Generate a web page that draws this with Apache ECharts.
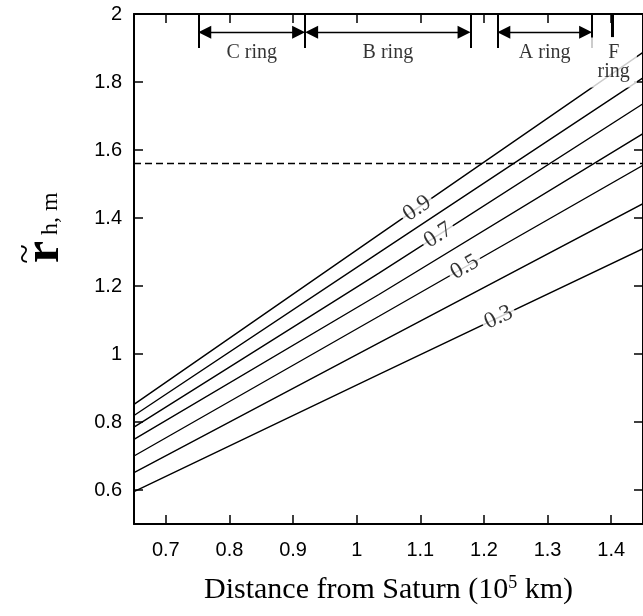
<!DOCTYPE html>
<html><head><meta charset="utf-8">
<script src="https://cdn.jsdelivr.net/npm/echarts@6/dist/echarts.min.js"></script>
<style>html,body{margin:0;padding:0;background:#fff}#c{width:643px;height:616px}</style>
</head><body><div id="c"></div>
<script>
// ---- data ----
const xSamples = [0.65, 1.035, 1.45];           // distance from Saturn (10^5 km)
const curveNames = ['0.9', '0.8', '0.7', '0.6', '0.5', '0.4', '0.3'];
const r09 = [0.852, 1.351, 1.887];
const r08 = [0.819, 1.298, 1.812];
const r07 = [0.785, 1.238, 1.736];
const r06 = [0.749, 1.175, 1.648];
const r05 = [0.700, 1.111, 1.555];
const r04 = [0.651, 1.033, 1.442];
const r03 = [0.595, 0.940, 1.310];
const labelledCurves = ['0.9', '0.7', '0.5', '0.3'];
const labelAtX = [1.095, 1.128, 1.170, 1.223];
const criticalR = 1.565;
const xTicks = [0.7, 0.8, 0.9, 1.0, 1.1, 1.2, 1.3, 1.4];
const yTicks = [0.6, 0.8, 1.0, 1.2, 1.4, 1.6, 1.8, 2.0];
const ringNames = ['C ring', 'B ring', 'A ring'];
const ringInner = [0.751, 0.919, 1.221];
const ringOuter = [0.919, 1.179, 1.370];
const fRing = 1.401;
const fRingName = 'F\nring';

// ---- layout / style config ----
const X_MIN = 0.65, X_MAX = 1.45, Y_MIN = 0.5, Y_MAX = 2.0;
const RING_EDGE_BOTTOM = 1.90, ARROW_Y = 1.946, RING_LABEL_Y = 1.8855;
const F_MARK_BOTTOM = 1.932, F_LABEL_Y = 1.857;
const ARROW_SIZE = 13;
const curves = [r09, r08, r07, r06, r05, r04, r03];
const SERIF = '"Liberation Serif", "Times New Roman", serif';
const SANS = '"Liberation Sans", Arial, sans-serif';

function interp(xs, ys, x) {
  for (let i = 0; i < xs.length - 1; i++) {
    if (x >= xs[i] && x <= xs[i + 1]) {
      const t = (x - xs[i]) / (xs[i + 1] - xs[i]);
      return ys[i] + t * (ys[i + 1] - ys[i]);
    }
  }
  return ys[ys.length - 1];
}
const fmt = v => String(Math.round(v * 10) / 10);

const chart = echarts.init(document.getElementById('c'), null, { renderer: 'canvas' });

function build(rot, arrowShift) {
  const axisLineStyle = { color: '#000', width: 2 };
  const markData = [];
  markData.push({ yAxis: criticalR, symbol: 'none', lineStyle: { type: [7, 4], width: 1.3, color: '#000' } });
  const edges = [...new Set([...ringInner, ...ringOuter])];
  edges.forEach(x => markData.push([
    { coord: [x, Y_MAX], symbol: 'none', lineStyle: { width: 2, color: '#000', type: 'solid' } },
    { coord: [x, RING_EDGE_BOTTOM], symbol: 'none' }
  ]));
  ringInner.forEach((x0, i) => markData.push([
    { coord: [x0 + arrowShift, ARROW_Y], symbol: 'triangle', symbolSize: ARROW_SIZE, lineStyle: { width: 1.4, color: '#000', type: 'solid' } },
    { coord: [ringOuter[i] - arrowShift, ARROW_Y], symbol: 'triangle', symbolSize: ARROW_SIZE }
  ]));
  markData.push([
    { coord: [fRing, Y_MAX], symbol: 'none', lineStyle: { width: 3, color: '#000', type: 'solid' } },
    { coord: [fRing, F_MARK_BOTTOM], symbol: 'none' }
  ]);

  const series = curves.map((ys, i) => ({
    name: curveNames[i], type: 'line', z: 2,
    data: xSamples.map((x, j) => [x, ys[j]]),
    showSymbol: false, symbol: 'none', silent: true,
    lineStyle: { color: '#000', width: 1.4 },
    markLine: i === 0 ? { silent: true, symbol: ['none', 'none'], label: { show: false }, animation: false, data: markData } : undefined
  }));

  series.push({
    name: 'curveLabels', type: 'scatter', z: 5, silent: true,
    symbolSize: 1, itemStyle: { color: 'rgba(0,0,0,0)' },
    data: labelledCurves.map((n, i) => {
      const ys = curves[curveNames.indexOf(n)];
      return {
        name: n, value: [labelAtX[i], interp(xSamples, ys, labelAtX[i])],
        label: { rotate: rot ? rot[i] : 0 }
      };
    }),
    label: {
      show: true, position: 'inside', formatter: p => p.name,
      fontFamily: SERIF, fontSize: 23, color: '#000',
      backgroundColor: '#fff', padding: [0, 3, 0, 3]
    }
  });

  series.push({
    name: 'ringLabels', type: 'scatter', z: 5, silent: true,
    symbolSize: 1, itemStyle: { color: 'rgba(0,0,0,0)' },
    data: ringNames.map((n, i) => ({ name: n, value: [(ringInner[i] + ringOuter[i]) / 2, RING_LABEL_Y] }))
      .concat([{ name: fRingName, value: [fRing + 0.003, F_LABEL_Y],
        label: { backgroundColor: '#fff', padding: [4, 7, 8, 7], lineHeight: 19 } }]),
    label: {
      show: true, position: 'inside', formatter: p => p.name,
      fontFamily: SERIF, fontSize: 20, color: '#000', lineHeight: 20
    }
  });

  return {
    animation: false,
    backgroundColor: '#fff',
    grid: { left: 134, right: -2, top: 14, bottom: 92, containLabel: false },
    xAxis: [{
      type: 'value', min: X_MIN, max: X_MAX, position: 'bottom',
      axisLine: { show: true, lineStyle: axisLineStyle },
      axisTick: { show: true, inside: true, length: 9, customValues: xTicks, lineStyle: { color: '#000', width: 1.5 } },
      axisLabel: { customValues: xTicks, formatter: fmt, fontFamily: SANS, fontSize: 20, color: '#000', margin: 16 },
      splitLine: { show: false },
      name: '{t|Distance from Saturn (10}{s|5}{t| km)}',
      nameLocation: 'middle', nameGap: 50,
      nameTextStyle: { rich: {
        t: { fontFamily: SERIF, fontSize: 30, color: '#000', lineHeight: 32 },
        s: { fontFamily: SERIF, fontSize: 18, color: '#000', verticalAlign: 'top', lineHeight: 32 }
      } }
    }, {
      type: 'value', min: X_MIN, max: X_MAX, position: 'top',
      axisLine: { show: true, lineStyle: axisLineStyle },
      axisTick: { show: true, inside: true, length: 9, customValues: xTicks, lineStyle: { color: '#000', width: 1.5 } },
      axisLabel: { show: false }, splitLine: { show: false }
    }],
    yAxis: [{
      type: 'value', min: Y_MIN, max: Y_MAX, position: 'left',
      axisLine: { show: true, lineStyle: axisLineStyle },
      axisTick: { show: true, inside: true, length: 9, customValues: yTicks, lineStyle: { color: '#000', width: 1.5 } },
      axisLabel: { customValues: yTicks, formatter: fmt, fontFamily: SANS, fontSize: 20, color: '#000', margin: 12 },
      splitLine: { show: false }
    }, {
      type: 'value', min: Y_MIN, max: Y_MAX, position: 'right',
      axisLine: { show: true, lineStyle: axisLineStyle },
      axisTick: { show: true, inside: true, length: 9, customValues: yTicks, lineStyle: { color: '#000', width: 1.5 } },
      axisLabel: { show: false }, splitLine: { show: false }
    }],
    graphic: [{
      type: 'group', x: 45, y: 252, rotation: Math.PI / 2, silent: true,
      children: [
        { type: 'text', x: 0, y: 0, style: { text: 'r', fontFamily: SERIF, fontWeight: 'bold', fontSize: 50, fill: '#000', align: 'center', verticalAlign: 'middle' } },
        { type: 'text', x: -2, y: -18, style: { text: '~', fontFamily: SERIF, fontSize: 36, fill: '#000', align: 'center', verticalAlign: 'middle' } },
        { type: 'text', x: 17, y: 6, style: { text: 'h, m', fontFamily: SERIF, fontSize: 24, fill: '#000', align: 'left', verticalAlign: 'middle' } }
      ]
    }],
    series: series
  };
}

chart.setOption(build(null, 0));
const finder = { xAxisIndex: 0, yAxisIndex: 0 };
const rot = labelledCurves.map(n => {
  const ys = curves[curveNames.indexOf(n)];
  const p1 = chart.convertToPixel(finder, [xSamples[0], ys[0]]);
  const p2 = chart.convertToPixel(finder, [xSamples[xSamples.length - 1], ys[ys.length - 1]]);
  return Math.atan2(p1[1] - p2[1], p2[0] - p1[0]) * 180 / Math.PI;
});
const pa = chart.convertToPixel(finder, [X_MIN, Y_MIN]);
const pb = chart.convertToPixel(finder, [X_MAX, Y_MIN]);
const pxPerUnit = (pb[0] - pa[0]) / (X_MAX - X_MIN);
chart.setOption(build(rot, (ARROW_SIZE / 2) / pxPerUnit), { notMerge: true });
</script>
</body></html>
